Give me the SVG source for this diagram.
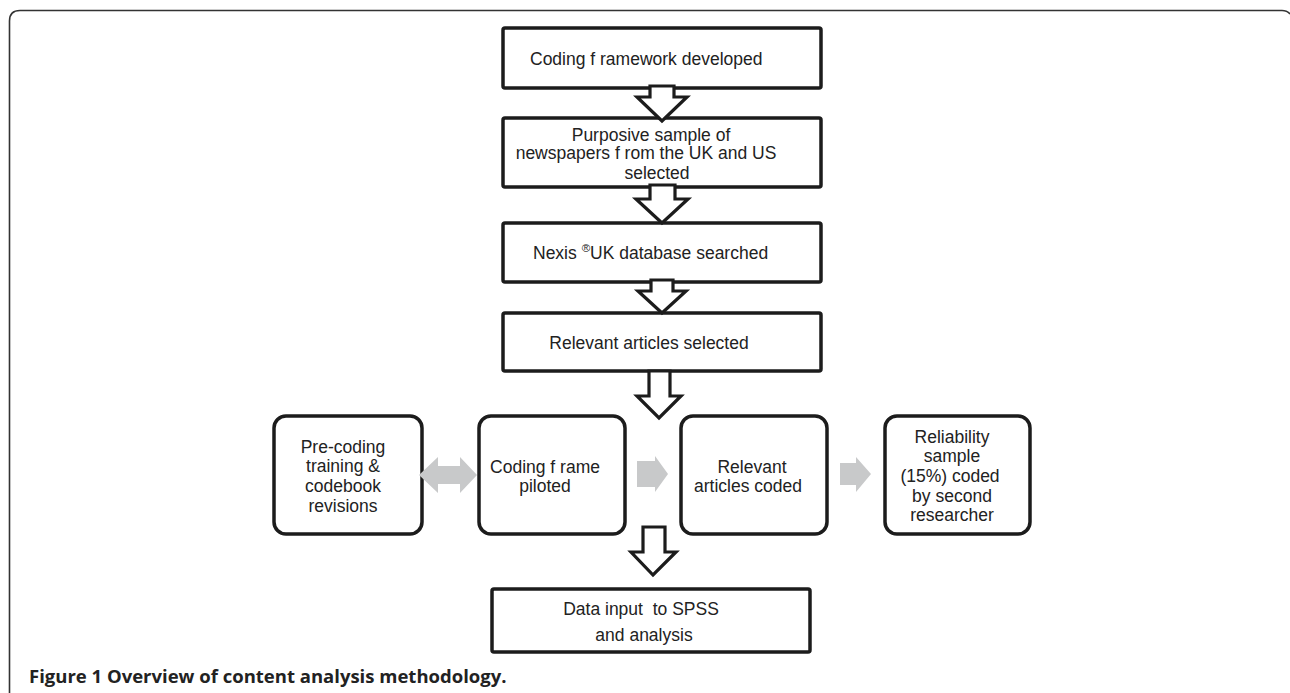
<svg xmlns="http://www.w3.org/2000/svg" width="1290" height="693" viewBox="0 0 1290 693">
<style>
.box{fill:#fff;stroke:#1c1c1c;stroke-width:3.5}
.rbox{fill:#fff;stroke:#1c1c1c;stroke-width:3.5}
.harrow{fill:#fff;stroke:#1c1c1c;stroke-width:3.2;stroke-linejoin:miter}
.garrow{fill:#c8c9ca;stroke:none}
text{font-family:"Liberation Sans",Arial,sans-serif;font-size:17.5px;fill:#222}
.c{text-anchor:middle}
.cap{font-family:"Open Sans","Liberation Sans",sans-serif;font-size:18.5px;font-weight:bold;fill:#222}
</style>
<rect width="1290" height="693" fill="#fff"/>
<path d="M9.5 693 V21 Q9.5 10.5 20 10.5 H1282 Q1287 10.5 1290 14" fill="none" stroke="#333" stroke-width="1.6"/>

<g id="n1"><rect class="box" x="503" y="28" width="318" height="60" rx="2"/><text x="530" y="65">Coding f ramework developed</text></g>
<g id="n2"><rect class="box" x="503" y="118" width="318" height="69" rx="2"/>
<text class="c" x="651" y="141">Purposive sample of</text>
<text class="c" x="646" y="159">newspapers f rom the UK and US</text>
<text class="c" x="657" y="179">selected</text></g>
<g id="n3"><rect class="box" x="503" y="223" width="318" height="59" rx="2"/><text x="533" y="259">Nexis <tspan font-size="11.5" dy="-7">®</tspan><tspan dy="7">UK database searched</tspan></text></g>
<g id="n4"><rect class="box" x="503" y="313" width="318" height="58" rx="2"/><text class="c" x="649" y="349">Relevant articles selected</text></g>

<g id="n5"><rect class="rbox" x="274" y="416" width="148" height="118" rx="12"/>
<text class="c" x="343" y="453">Pre-coding</text>
<text class="c" x="343" y="472">training &amp;</text>
<text class="c" x="343" y="492">codebook</text>
<text class="c" x="343" y="512">revisions</text></g>
<g id="n6"><rect class="rbox" x="479" y="416" width="146" height="118" rx="12"/>
<text class="c" x="545" y="473">Coding f rame</text>
<text class="c" x="545" y="492">piloted</text></g>
<g id="n7"><rect class="rbox" x="681" y="416" width="146" height="118" rx="12"/>
<text class="c" x="752" y="473">Relevant</text>
<text class="c" x="748" y="492">articles coded</text></g>
<g id="n8"><rect class="rbox" x="885" y="416" width="145" height="118" rx="12"/>
<text class="c" x="952" y="443">Reliability</text>
<text class="c" x="952" y="462">sample</text>
<text class="c" x="950" y="482">(15%) coded</text>
<text class="c" x="952" y="502">by second</text>
<text class="c" x="952" y="521">researcher</text></g>
<g id="n9"><rect class="box" x="492" y="589" width="318" height="63" rx="2"/>
<text class="c" x="641" y="615" xml:space="preserve">Data input  to SPSS</text>
<text class="c" x="644" y="641">and analysis</text></g>

<g id="connectors">
<polygon class="harrow" points="650,86 650,97 637,97 662,121 687,97 674,97 674,86"/>
<polygon class="harrow" points="650,185 650,199 636,199 662,223 688,199 675,199 675,185"/>
<polygon class="harrow" points="651,280 651,291 638,291 662,313 686,291 673,291 673,280"/>
<polygon class="harrow" points="649,371 649,396 637,396 659,418 681,396 670,396 670,371"/>
<polygon class="harrow" points="643,527 643,552 631,552 653,575 676,552 665,552 665,527"/>
<polygon class="garrow" points="419,475 438,457 438,466 460,466 460,457 477,475 460,493 460,484 438,484 438,493"/>
<polygon class="garrow" points="637,461 655,461 655,456 668,474 655,492 655,487 637,487"/>
<polygon class="garrow" points="840,463 856,463 856,457 871,474 856,492 856,485 840,485"/>
</g>

<text class="cap" x="29" y="683">Figure 1 Overview of content analysis methodology.</text>
</svg>
